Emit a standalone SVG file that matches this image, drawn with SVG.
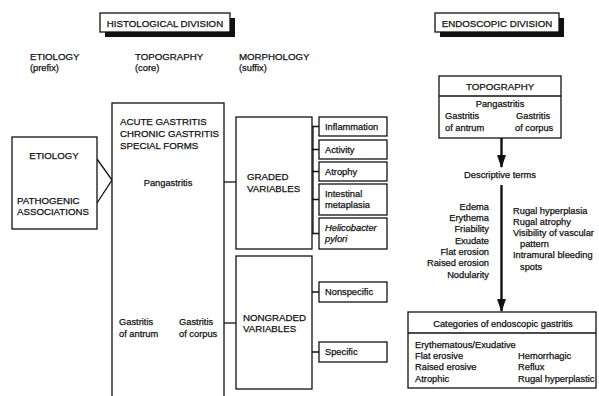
<svg xmlns="http://www.w3.org/2000/svg" width="599" height="396" viewBox="0 0 599 396">
<style>
text{font-family:"Liberation Sans",Arial,sans-serif;font-size:9.3px;fill:#111;stroke:#111;stroke-width:0.25}
.k{font-size:9.7px}
.b{fill:#fff;stroke:#111;stroke-width:1.3}
.sh{fill:#111}
.c{stroke:#111;stroke-width:1.3;fill:none}
.a{stroke:#111;stroke-width:2.4;fill:none}
.m{text-anchor:middle}
.e{text-anchor:end}
.i{font-style:italic}
</style>
<defs>
<marker id="ah" markerWidth="13" markerHeight="9" refX="12" refY="4.5" orient="auto" markerUnits="userSpaceOnUse" viewBox="0 0 13 9">
<path d="M0,0 L13,4.5 L0,9 Z" fill="#111"/>
</marker>
</defs>
<rect width="599" height="396" fill="#fff"/>

<g id="histological-title">
<rect class="sh" x="105" y="18" width="130" height="19"/>
<rect class="b" x="100" y="13" width="130" height="19"/>
<text x="165" y="26.5" class="m k">HISTOLOGICAL DIVISION</text>
</g>
<g id="endoscopic-title">
<rect class="sh" x="440" y="18" width="124" height="19"/>
<rect class="b" x="435" y="13" width="124" height="19"/>
<text x="497" y="26.5" class="m k">ENDOSCOPIC DIVISION</text>
</g>

<g id="col-headers">
<text x="30" y="60" class="k">ETIOLOGY</text><text x="30" y="71">(prefix)</text>
<text x="135" y="60" class="k">TOPOGRAPHY</text><text x="135" y="71">(core)</text>
<text x="239" y="60" class="k">MORPHOLOGY</text><text x="239" y="71">(suffix)</text>
</g>

<g id="connectors">
<path class="c" d="M97,159 L112,180 L97,203"/>
<path class="c" d="M224,182 H236"/>
<path class="c" d="M224,323 H236"/>
<path class="c" d="M313,126.5 V233.5"/>
<path class="c" d="M312,126.5 H319 M312,149.5 H319 M312,171.5 H319 M312,199.5 H319 M312,233.5 H319"/>
<path class="c" d="M312,292 H319 M312,352 H319"/>
<path class="a" d="M501.5,138 V167" marker-end="url(#ah)"/>
<path class="a" d="M501.5,185 V311" marker-end="url(#ah)"/>
</g>

<g id="etiology">
<rect class="b" x="12" y="137" width="85" height="92"/>
<text x="54" y="159" class="m k">ETIOLOGY</text>
<text x="17" y="204" class="k">PATHOGENIC</text>
<text x="17" y="215" class="k">ASSOCIATIONS</text>
</g>

<g id="topography">
<rect class="b" x="112" y="103" width="112" height="300"/>
<text x="120" y="125" class="k">ACUTE GASTRITIS</text>
<text x="120" y="137" class="k">CHRONIC GASTRITIS</text>
<text x="120" y="149" class="k">SPECIAL FORMS</text>
<text x="168" y="186" class="m">Pangastritis</text>
<text x="119" y="325">Gastritis</text>
<text x="119" y="337">of antrum</text>
<text x="179" y="325">Gastritis</text>
<text x="179" y="337">of corpus</text>
</g>

<g id="graded">
<rect class="b" x="236" y="117" width="76" height="132"/>
<text x="247" y="180" class="k">GRADED</text>
<text x="247" y="192" class="k">VARIABLES</text>
</g>
<g id="inflammation"><rect class="b" x="319" y="117" width="68" height="19"/><text x="325" y="130">Inflammation</text></g>
<g id="activity"><rect class="b" x="319" y="140" width="68" height="19"/><text x="325" y="153">Activity</text></g>
<g id="atrophy"><rect class="b" x="319" y="162" width="68" height="19"/><text x="325" y="175">Atrophy</text></g>
<g id="metaplasia"><rect class="b" x="319" y="184" width="68" height="31"/><text x="325" y="197">Intestinal</text><text x="325" y="208">metaplasia</text></g>
<g id="hpylori"><rect class="b" x="319" y="218" width="68" height="31"/><text x="325" y="231" class="i">Helicobacter</text><text x="325" y="242" class="i">pylori</text></g>

<g id="nongraded">
<rect class="b" x="236" y="256" width="76" height="133"/>
<text x="243" y="321" class="k">NONGRADED</text>
<text x="243" y="332" class="k">VARIABLES</text>
</g>
<g id="nonspecific"><rect class="b" x="319" y="282" width="68" height="20"/><text x="325" y="295">Nonspecific</text></g>
<g id="specific"><rect class="b" x="319" y="342" width="68" height="20"/><text x="325" y="355">Specific</text></g>

<g id="endo-topography">
<rect class="b" x="439" y="76" width="122" height="62"/>
<path class="c" d="M439,96 H561"/>
<text x="500" y="90" class="m k">TOPOGRAPHY</text>
<text x="500" y="107" class="m">Pangastritis</text>
<text x="445" y="119">Gastritis</text>
<text x="445" y="131">of antrum</text>
<text x="516" y="119">Gastritis</text>
<text x="515" y="131">of corpus</text>
</g>

<g id="descriptive">
<text x="500" y="178" class="m">Descriptive terms</text>
<text x="489" y="210" class="e">Edema</text>
<text x="489" y="221" class="e">Erythema</text>
<text x="489" y="232" class="e">Friability</text>
<text x="489" y="244" class="e">Exudate</text>
<text x="489" y="255" class="e">Flat erosion</text>
<text x="489" y="266" class="e">Raised erosion</text>
<text x="489" y="278" class="e">Nodularity</text>
<text x="513" y="214">Rugal hyperplasia</text>
<text x="513" y="225">Rugal atrophy</text>
<text x="513" y="236">Visibility of vascular</text>
<text x="520" y="247">pattern</text>
<text x="513" y="258">Intramural bleeding</text>
<text x="520" y="270">spots</text>
</g>

<g id="categories">
<rect class="b" x="408" y="312" width="188" height="76"/>
<path class="c" d="M408,333 H596"/>
<text x="503" y="327" class="m">Categories of endoscopic gastritis</text>
<text x="415" y="348">Erythematous/Exudative</text>
<text x="415" y="359">Flat erosive</text>
<text x="415" y="370">Raised erosive</text>
<text x="415" y="382">Atrophic</text>
<text x="518" y="359">Hemorrhagic</text>
<text x="518" y="370">Reflux</text>
<text x="518" y="382">Rugal hyperplastic</text>
</g>
</svg>
